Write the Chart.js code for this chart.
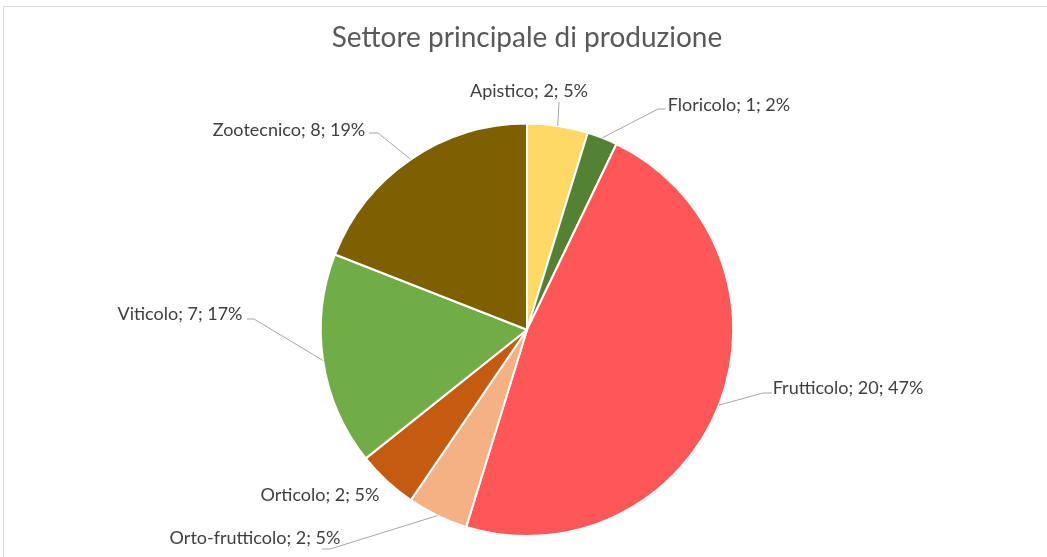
<!DOCTYPE html>
<html>
<head>
<meta charset="utf-8">
<script src="https://cdn.jsdelivr.net/npm/chart.js@4.4.1/dist/chart.umd.min.js"></script>
<style>
  body { margin: 0; background: #fff; }
  #wrap { position: relative; width: 1047px; height: 557px; overflow: hidden; }
  #frame { position: absolute; left: 3px; top: 6px; width: 1100px; height: 600px;
           border-top: 1px solid #d9d9d9; border-left: 1px solid #d9d9d9; }
  canvas { position: absolute; left: 0; top: 0; }
</style>
</head>
<body>
<div id="wrap">
  <div id="frame"></div>
  <canvas id="myChart" width="1047" height="557"></canvas>
</div>
<script>
// data
let labels = ['Apistico', 'Floricolo', 'Frutticolo', 'Orto-frutticolo', 'Orticolo', 'Viticolo', 'Zootecnico'];
let values = [2, 1, 20, 2, 2, 7, 8];
let percents = [5, 2, 47, 5, 5, 17, 19];
let colors = ['#FFD966', '#548235', '#FF5757', '#F4B183', '#C55A11', '#70AD47', '#7F6000'];

// where each data label sits (text centre) and where its leader line leaves the text
let labelLayout = [
  { x: 529, y: 91, line: [[559, 102]] },
  { x: 729, y: 105, line: [[665, 109], [658, 109]] },
  { x: 848, y: 388, line: [[772, 393], [763, 393]] },
  { x: 255, y: 538, line: [[322, 549], [330, 549]] },
  { x: 320, y: 495, line: null },
  { x: 180, y: 314, line: [[247, 319], [254, 319]] },
  { x: 289, y: 130, line: [[369, 133], [378, 133]] }
];

const pieLabels = {
  id: 'pieLabels',
  afterDraw(chart) {
    const ctx = chart.ctx;
    const meta = chart.getDatasetMeta(0);
    ctx.save();
    meta.data.forEach((arc, i) => {
      const lay = labelLayout[i];
      const mid = (arc.startAngle + arc.endAngle) / 2;
      const ex = arc.x + Math.cos(mid) * arc.outerRadius;
      const ey = arc.y + Math.sin(mid) * arc.outerRadius;
      if (lay.line) {
        ctx.strokeStyle = '#a6a6a6';
        ctx.lineWidth = 1;
        ctx.beginPath();
        ctx.moveTo(lay.line[0][0], lay.line[0][1]);
        for (let k = 1; k < lay.line.length; k++) ctx.lineTo(lay.line[k][0], lay.line[k][1]);
        ctx.lineTo(ex, ey);
        ctx.stroke();
      }
      ctx.fillStyle = '#404040';
      ctx.font = '18px Lato';
      ctx.textAlign = 'center';
      ctx.textBaseline = 'middle';
      ctx.fillText(labels[i] + '; ' + values[i] + '; ' + percents[i] + '%', lay.x, lay.y);
    });
    ctx.restore();
  }
};

const data = {
  labels: labels,
  datasets: [{
    data: values,
    backgroundColor: colors,
    borderColor: '#ffffff',
    borderWidth: 2
  }]
};

const config = {
  type: 'pie',
  data,
  options: {
    responsive: false,
    animation: false,
    layout: { padding: { top: 0, bottom: 20, left: 7, right: 0 } },
    plugins: {
      legend: { display: false },
      tooltip: { enabled: false },
      title: {
        display: true,
        text: 'Settore principale di produzione',
        color: '#595959',
        font: { family: 'Lato', size: 28, weight: 'normal' },
        padding: { top: 21, bottom: 68 }
      }
    }
  },
  plugins: [pieLabels]
};

let myChart = new Chart(document.getElementById('myChart'), config);
</script>
</body>
</html>
